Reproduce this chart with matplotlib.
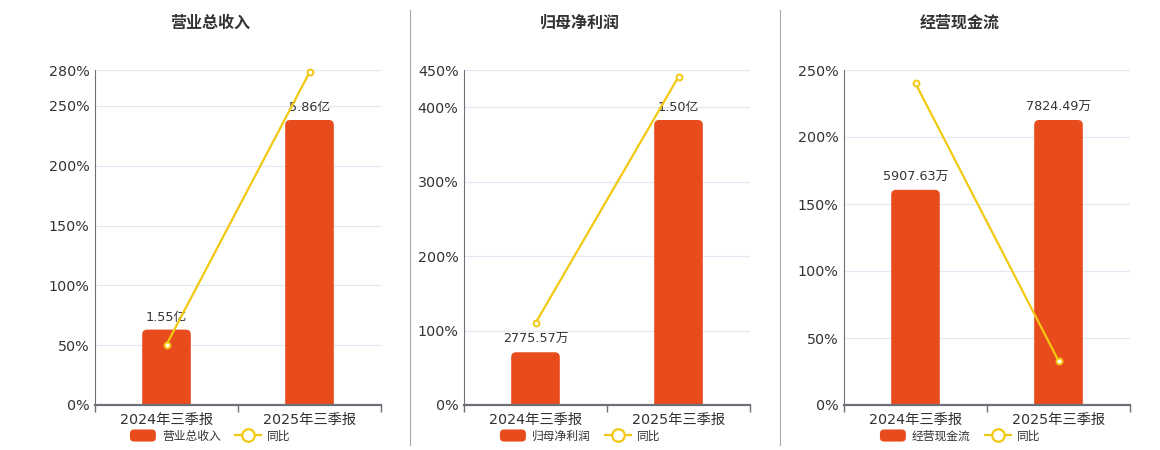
import matplotlib
matplotlib.use("Agg")
import matplotlib.pyplot as plt
from matplotlib.patches import FancyBboxPatch, Patch
from matplotlib.lines import Line2D
from matplotlib.legend_handler import HandlerPatch

plt.rcParams['font.family'] = ['DejaVu Sans', 'Noto Sans CJK SC']

categories = ['2024年三季报', '2025年三季报']
titles = ['营业总收入', '归母净利润', '经营现金流']

# bar values (on a hidden axis) and their labels
revenue = [1.55, 5.86]            # 亿
net_profit = [0.277557, 1.50]     # 亿
cash_flow = [5907.63, 7824.49]    # 万
bar_values = [revenue, net_profit, cash_flow]
bar_labels = [['1.55亿', '5.86亿'],
              ['2775.57万', '1.50亿'],
              ['5907.63万', '7824.49万']]

# year-on-year growth (%)
yoy_revenue = [50.5, 278.0]
yoy_profit = [110.0, 441.0]
yoy_cash = [240.0, 33.0]
yoy_values = [yoy_revenue, yoy_profit, yoy_cash]

y_max = [280, 450, 250]
y_ticks = [[0, 50, 100, 150, 200, 250, 280],
           [0, 100, 200, 300, 400, 450],
           [0, 50, 100, 150, 200, 250]]

BAR_COLOR = '#E84B1C'
LINE_COLOR = '#F2C811'
AXIS_COLOR = '#6E7079'
GRID_COLOR = '#E3E8F2'
TEXT_COLOR = '#333333'


class RoundPatchHandler(HandlerPatch):
    """legend key drawn as a rounded rectangle"""
    def create_artists(self, legend, orig_handle, xdescent, ydescent,
                       width, height, fontsize, trans):
        p = FancyBboxPatch((-xdescent + 2, -ydescent + 2), width - 4, height - 4,
                           boxstyle='round,pad=2,rounding_size=3',
                           facecolor=orig_handle.get_facecolor(), edgecolor='none',
                           transform=trans)
        return [p]


W, H = 1160, 450
fig = plt.figure(figsize=(W / 100, H / 100), dpi=100)

lefts = [95, 464, 844]
center_x = [210, 580, 960]
ax_w, ax_top, ax_bottom = 286, 70, 405

for i in range(3):
    ax = fig.add_axes([lefts[i] / W, (H - ax_bottom) / H, ax_w / W, (ax_bottom - ax_top) / H])
    axb = ax.twinx()   # bars
    axl = ax.twinx()   # yoy line, on top
    ax.set_zorder(0)
    axb.set_zorder(1)
    axl.set_zorder(2)
    for a in (axb, axl):
        a.patch.set_visible(False)

    # grid and tick labels on the bottom axis
    ax.set_xlim(-0.5, 1.5)
    ax.set_ylim(0, y_max[i])
    ax.set_yticks(y_ticks[i])
    ax.set_yticklabels(['%d%%' % t for t in y_ticks[i]])
    ax.yaxis.grid(True, color=GRID_COLOR, lw=0.9)
    ax.tick_params(axis='y', length=0, pad=4, labelsize=10.3, labelcolor=TEXT_COLOR)
    ax.set_xticks(range(2))
    ax.set_xticklabels(categories)
    ax.set_xticks([-0.5, 0.5, 1.5], minor=True)
    ax.tick_params(axis='x', which='major', length=0, pad=6, labelsize=10.3, labelcolor=TEXT_COLOR)
    ax.tick_params(axis='x', which='minor', length=5, width=1, color=AXIS_COLOR)
    for s in ax.spines.values():
        s.set_visible(False)

    # bars on hidden axis
    bmax = max(bar_values[i]) * 335 / 285
    axb.set_ylim(0, bmax)
    axb.set_xlim(-0.5, 1.5)
    bars = axb.bar(range(2), bar_values[i], width=0.34, color=BAR_COLOR, alpha=0)
    px_x = 2.0 / ax_w
    px_y = bmax / (ax_bottom - ax_top)
    r = 5 * px_x
    for b, lab in zip(bars, bar_labels[i]):
        x0, w, h = b.get_x(), b.get_width(), b.get_height()
        rp = FancyBboxPatch((x0 + r, -10 * px_y), w - 2 * r, h + 10 * px_y - r * px_y / px_x,
                            boxstyle='round,pad=%f,rounding_size=%f' % (r, r),
                            mutation_aspect=px_y / px_x,
                            facecolor=BAR_COLOR, edgecolor='none')
        axb.add_patch(rp)
        axb.text(x0 + w / 2, h + 6 * px_y, lab, ha='center', va='bottom',
                 fontsize=9.2, color=TEXT_COLOR)
    axb.set_yticks([])
    for s in axb.spines.values():
        s.set_visible(False)

    # yoy line and axis lines on top
    axl.set_xlim(-0.5, 1.5)
    axl.set_ylim(0, y_max[i])
    axl.plot(range(2), yoy_values[i], color=LINE_COLOR, lw=1.6, marker='o', ms=4.2,
             mfc='white', mec=LINE_COLOR, mew=1.4, zorder=5, clip_on=False)
    axl.set_yticks([])
    for s in ['top', 'right']:
        axl.spines[s].set_visible(False)
    axl.spines['left'].set_visible(True)
    axl.spines['left'].set_color(AXIS_COLOR)
    axl.spines['left'].set_linewidth(0.8)
    axl.spines['bottom'].set_color(AXIS_COLOR)
    axl.spines['bottom'].set_linewidth(1.6)

    fig.text(center_x[i] / W, 1 - 23 / H, titles[i], ha='center', va='center',
             fontsize=11.5, fontweight='bold', color=TEXT_COLOR)

    bar_key = Patch(facecolor=BAR_COLOR, edgecolor='none', label=titles[i])
    handles = [bar_key,
               Line2D([0], [0], color=LINE_COLOR, lw=1.6, marker='o', ms=9,
                      mfc='white', mec=LINE_COLOR, mew=1.6, label='同比')]
    fig.legend(handles=handles, loc='center', bbox_to_anchor=(center_x[i] / W, 1 - 436 / H),
               ncol=2, frameon=False, fontsize=8.5, handlelength=2.2, handleheight=1.2,
               columnspacing=1.2, handletextpad=0.5, labelcolor=TEXT_COLOR,
               handler_map={bar_key: RoundPatchHandler()})

# panel separators
for xs in [410, 780]:
    fig.add_artist(Line2D([xs / W, xs / W], [1 - 10 / H, 1 - 445 / H], color='#AAAAAA', lw=0.8))

fig.savefig('out.png', dpi=100, facecolor='white')
